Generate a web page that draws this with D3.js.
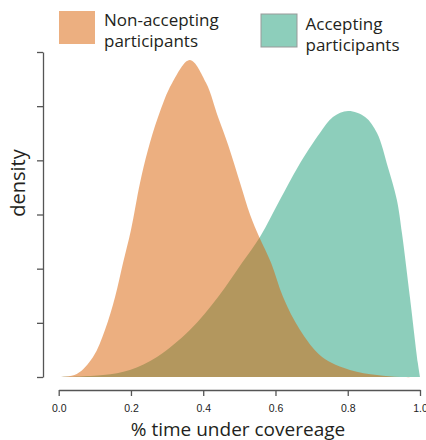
<!DOCTYPE html>
<html>
<head>
<meta charset="utf-8">
<script src="https://cdn.jsdelivr.net/npm/d3@7"></script>
<style>
  body { margin: 0; background: #fff; }
  text { fill: #231f20; }
</style>
</head>
<body>
<script>
// values (x = share of time, y = density)
var nonAcceptX = [0, 0.05, 0.095, 0.128, 0.156, 0.178, 0.2, 0.225, 0.247, 0.275, 0.314, 0.363,
                  0.408, 0.441, 0.469, 0.502, 0.53, 0.555, 0.588, 0.621, 0.668, 0.729, 0.806, 0.881, 0.945, 1];
var nonAcceptY = [0, 0.028, 0.185, 0.434, 0.738, 1.052, 1.357, 1.791, 2.095, 2.4, 2.714, 2.926,
                  2.714, 2.4, 2.142, 1.791, 1.495, 1.292, 1.052, 0.738, 0.434, 0.185, 0.065, 0.018, 0, 0];
var acceptX = [0, 0.123, 0.197, 0.272, 0.363, 0.441, 0.507, 0.557, 0.612, 0.662, 0.723, 0.759, 0.801,
               0.848, 0.881, 0.911, 0.936, 0.95, 0.972, 0.994, 1];
var acceptY = [0, 0.018, 0.065, 0.185, 0.434, 0.738, 1.052, 1.292, 1.634, 1.939, 2.252, 2.4, 2.455,
               2.4, 2.252, 1.939, 1.634, 1.329, 0.738, 0.129, 0];
var xTicks = [0, 0.2, 0.4, 0.6, 0.8, 1.0];
var yTicks = [0, 0.5, 1, 1.5, 2, 2.5, 3];
var groups = ["Non-accepting participants", "Accepting participants"];

var W = 426, H = 440;
var orange = "rgba(217,95,2,0.5)",
    teal = "rgba(27,158,119,0.5)";

var x = d3.scaleLinear().domain([0, 1]).range([58.7, 420]),
    y = d3.scaleLinear().domain([0, 3]).range([377, 52]);

var svg = d3.select("body").append("svg")
    .attr("width", W)
    .attr("height", H)
    .style("font-family", "'Open Sans', 'Noto Sans', sans-serif");

var area = d3.area()
    .x(d => x(d[0]))
    .y0(y(0))
    .y1(d => y(Math.max(0, d[1])))
    .curve(d3.curveCatmullRom.alpha(0.5));

// teal first, orange on top so the overlap turns brown
svg.append("path")
    .datum(d3.zip(acceptX, acceptY))
    .attr("fill", teal)
    .attr("d", area);

svg.append("path")
    .datum(d3.zip(nonAcceptX, nonAcceptY))
    .attr("fill", orange)
    .attr("d", area);

// y axis, ticks only
var yAxis = svg.append("g")
    .attr("transform", "translate(43,0)")
    .call(d3.axisLeft(y).tickValues(yTicks).tickSize(6).tickSizeOuter(0).tickFormat(""));
yAxis.select(".domain").attr("stroke", "#555").attr("stroke-width", 1.3);
yAxis.selectAll(".tick line").attr("stroke", "#555").attr("stroke-width", 1.3);

// x axis sits a little below the baseline
var xAxis = svg.append("g")
    .attr("transform", "translate(0,390)")
    .call(d3.axisBottom(x).tickValues(xTicks).tickSize(6).tickSizeOuter(0).tickFormat(d3.format(".1f")));
xAxis.select(".domain").attr("stroke", "#555").attr("stroke-width", 1.3);
xAxis.selectAll(".tick line").attr("stroke", "#555").attr("stroke-width", 1.3);
xAxis.selectAll(".tick text")
    .attr("y", 14.5)
    .style("font-family", "'Liberation Sans', Arial, sans-serif")
    .style("font-size", "10.5px")
    .style("fill", "#222");

svg.append("text")
    .attr("x", 238).attr("y", 435.5)
    .attr("text-anchor", "middle")
    .style("font-size", "19px")
    .text("% time under covereage");

svg.append("text")
    .attr("transform", "translate(25,183) rotate(-90)")
    .attr("text-anchor", "middle")
    .style("font-size", "20px")
    .text("density");

// legend
var legend = [
    {label: groups[0], fill: orange, stroke: "none", rx: 59, ry: 11, tx: 104, ty: 26},
    {label: groups[1], fill: teal, stroke: "#999", rx: 261, ry: 14, tx: 305.5, ty: 30}
];
var lg = svg.selectAll(".legend")
    .data(legend)
  .enter().append("g")
    .attr("class", "legend");
lg.append("rect")
    .attr("x", d => d.rx).attr("y", d => d.ry)
    .attr("width", 36).attr("height", 33)
    .attr("fill", d => d.fill)
    .attr("stroke", d => d.stroke);
lg.selectAll("text")
    .data(d => {
        var i = d.label.lastIndexOf(" ");
        return [[d.label.slice(0, i), d.tx, d.ty], [d.label.slice(i + 1), d.tx, d.ty + 21]];
    })
  .enter().append("text")
    .attr("x", d => d[1])
    .attr("y", d => d[2])
    .style("font-size", "17px")
    .text(d => d[0]);
</script>
</body>
</html>
